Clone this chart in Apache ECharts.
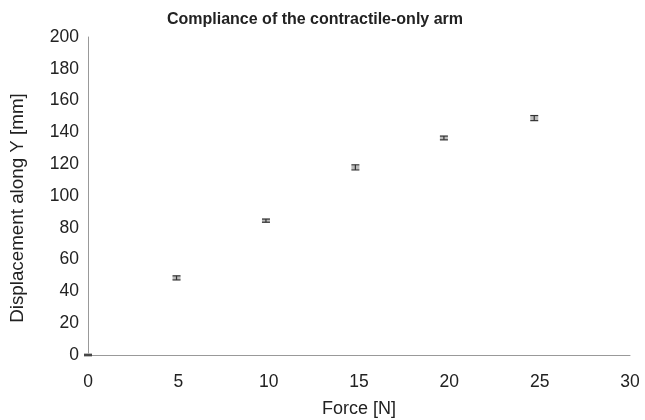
<!DOCTYPE html>
<html><head><meta charset="utf-8">
<script src="https://cdn.jsdelivr.net/npm/echarts@6/dist/echarts.min.js"></script>
<style>html,body{margin:0;padding:0;background:#fff}#c{width:645px;height:420px}</style>
</head><body><div id="c"></div>
<script>
const forces = [0, 4.9, 9.85, 14.8, 19.7, 24.7];
const displacement = [0, 48.5, 84.5, 118, 136.5, 149];
const errors = [0, 1.3, 1.0, 1.6, 1.2, 1.6];
const xTicks = [0, 5, 10, 15, 20, 25, 30];
const yTicks = [0, 20, 40, 60, 80, 100, 120, 140, 160, 180, 200];

const pts = forces.map((f, i) => [f, displacement[i]]);
const errData = forces.map((f, i) => [f, displacement[i] - errors[i], displacement[i] + errors[i]]);
const font = 'Liberation Sans, Arial, sans-serif';
const chart = echarts.init(document.getElementById('c'));
chart.setOption({
  animation: false,
  title: { text: 'Compliance of the contractile-only arm', left: 310, top: 7, textAlign: 'center',
    textStyle: { fontFamily: font, fontSize: 16, fontWeight: 'bold', color: '#222' } },
  grid: { left: 88, right: 15, top: 37, bottom: 65, containLabel: false, outerBoundsMode: 'none' },
  graphic: [{ type: 'text', x: 18, y: 208, rotation: Math.PI / 2,
    style: { text: 'Displacement along Y [mm]', fontFamily: font, fontSize: 18.8, fill: '#222',
      align: 'center', verticalAlign: 'middle' } }],
  xAxis: { type: 'value', min: 0, max: 30, interval: 5,
    name: 'Force [N]', nameLocation: 'middle', nameGap: 45,
    nameTextStyle: { fontFamily: font, fontSize: 18, color: '#222' },
    axisLine: { lineStyle: { color: '#999' } }, axisTick: { show: false },
    axisLabel: { fontFamily: font, fontSize: 17.5, color: '#222', margin: 18 },
    splitLine: { show: false } },
  yAxis: { type: 'value', min: 0, max: 200, interval: 20,
    axisLine: { show: true, lineStyle: { color: '#999' } }, axisTick: { show: false },
    axisLabel: { fontFamily: font, fontSize: 17.5, color: '#222', margin: 9 },
    splitLine: { show: false } },
  series: [
    { type: 'scatter', data: pts, symbol: 'rect', symbolSize: [8, 4],
      itemStyle: { color: '#aaa' }, z: 2 },
    { type: 'custom', data: errData, z: 3,
      renderItem: function (params, api) {
        const x = api.value(0);
        const lo = api.coord([x, api.value(1)]);
        const hi = api.coord([x, api.value(2)]);
        const w = 4;
        const st = { stroke: '#333', lineWidth: 1.2 };
        return { type: 'group', children: [
          { type: 'line', shape: { x1: lo[0], y1: lo[1], x2: hi[0], y2: hi[1] }, style: st },
          { type: 'line', shape: { x1: lo[0] - w, y1: lo[1], x2: lo[0] + w, y2: lo[1] }, style: st },
          { type: 'line', shape: { x1: hi[0] - w, y1: hi[1], x2: hi[0] + w, y2: hi[1] }, style: st }
        ]};
      } }
  ]
});
</script></body></html>
